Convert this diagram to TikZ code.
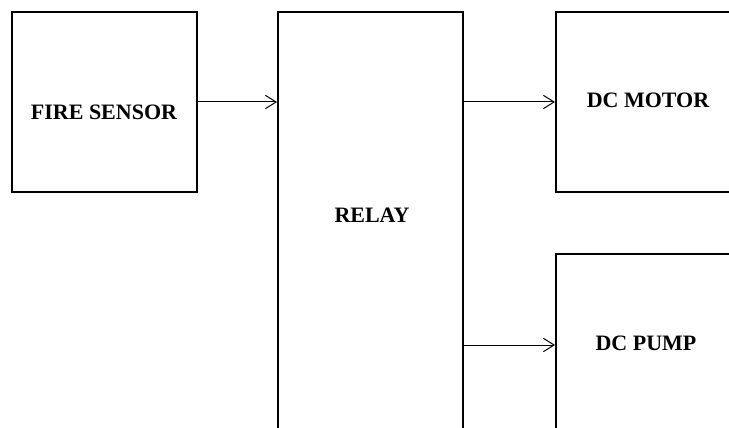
\documentclass[tikz,border=0pt]{standalone}
\usepackage{fontspec}
\setmainfont{Liberation Serif}
\usetikzlibrary{arrows.meta,calc}

\begin{document}
\begin{tikzpicture}[x=.75pt,y=-.75pt,>={Straight Barb[length=8pt,width=10pt]},
  blk/.style={draw,line width=1.5pt,minimum width=138.75pt,minimum height=135pt,inner sep=0pt},
  lbl/.style={font=\bfseries\fontsize{16.5}{20}\selectfont,inner sep=0pt}]
\useasboundingbox (0,0) rectangle (729,428);
\clip (0,0) rectangle (729,428);
% blocks
\node[blk] (fire) at (104.5,102){};
\node[blk,minimum height=330pt] (relay) at (370.5,232){};
\node[blk] (motor) at (648.5,102){};
\node[blk,minimum height=136.5pt] (pump) at (648.5,345){};
% texts
\node[lbl] (firetxt) at (104,112){FIRE SENSOR};
\node[lbl] (relaytxt) at (372,215){RELAY};
\node[lbl] (motortxt) at (648,100){DC MOTOR};
\node[lbl] (pumptxt) at (646,343){DC PUMP};
% links
\draw[->,line width=.75pt] (fire.east) -- (fire.east -| relay.west);
\draw[->,line width=.75pt] (motor.west -| relay.east) -- (motor.west);
\draw[->,line width=.75pt] (pump.west -| relay.east) -- (pump.west);
\end{tikzpicture}
\end{document}
